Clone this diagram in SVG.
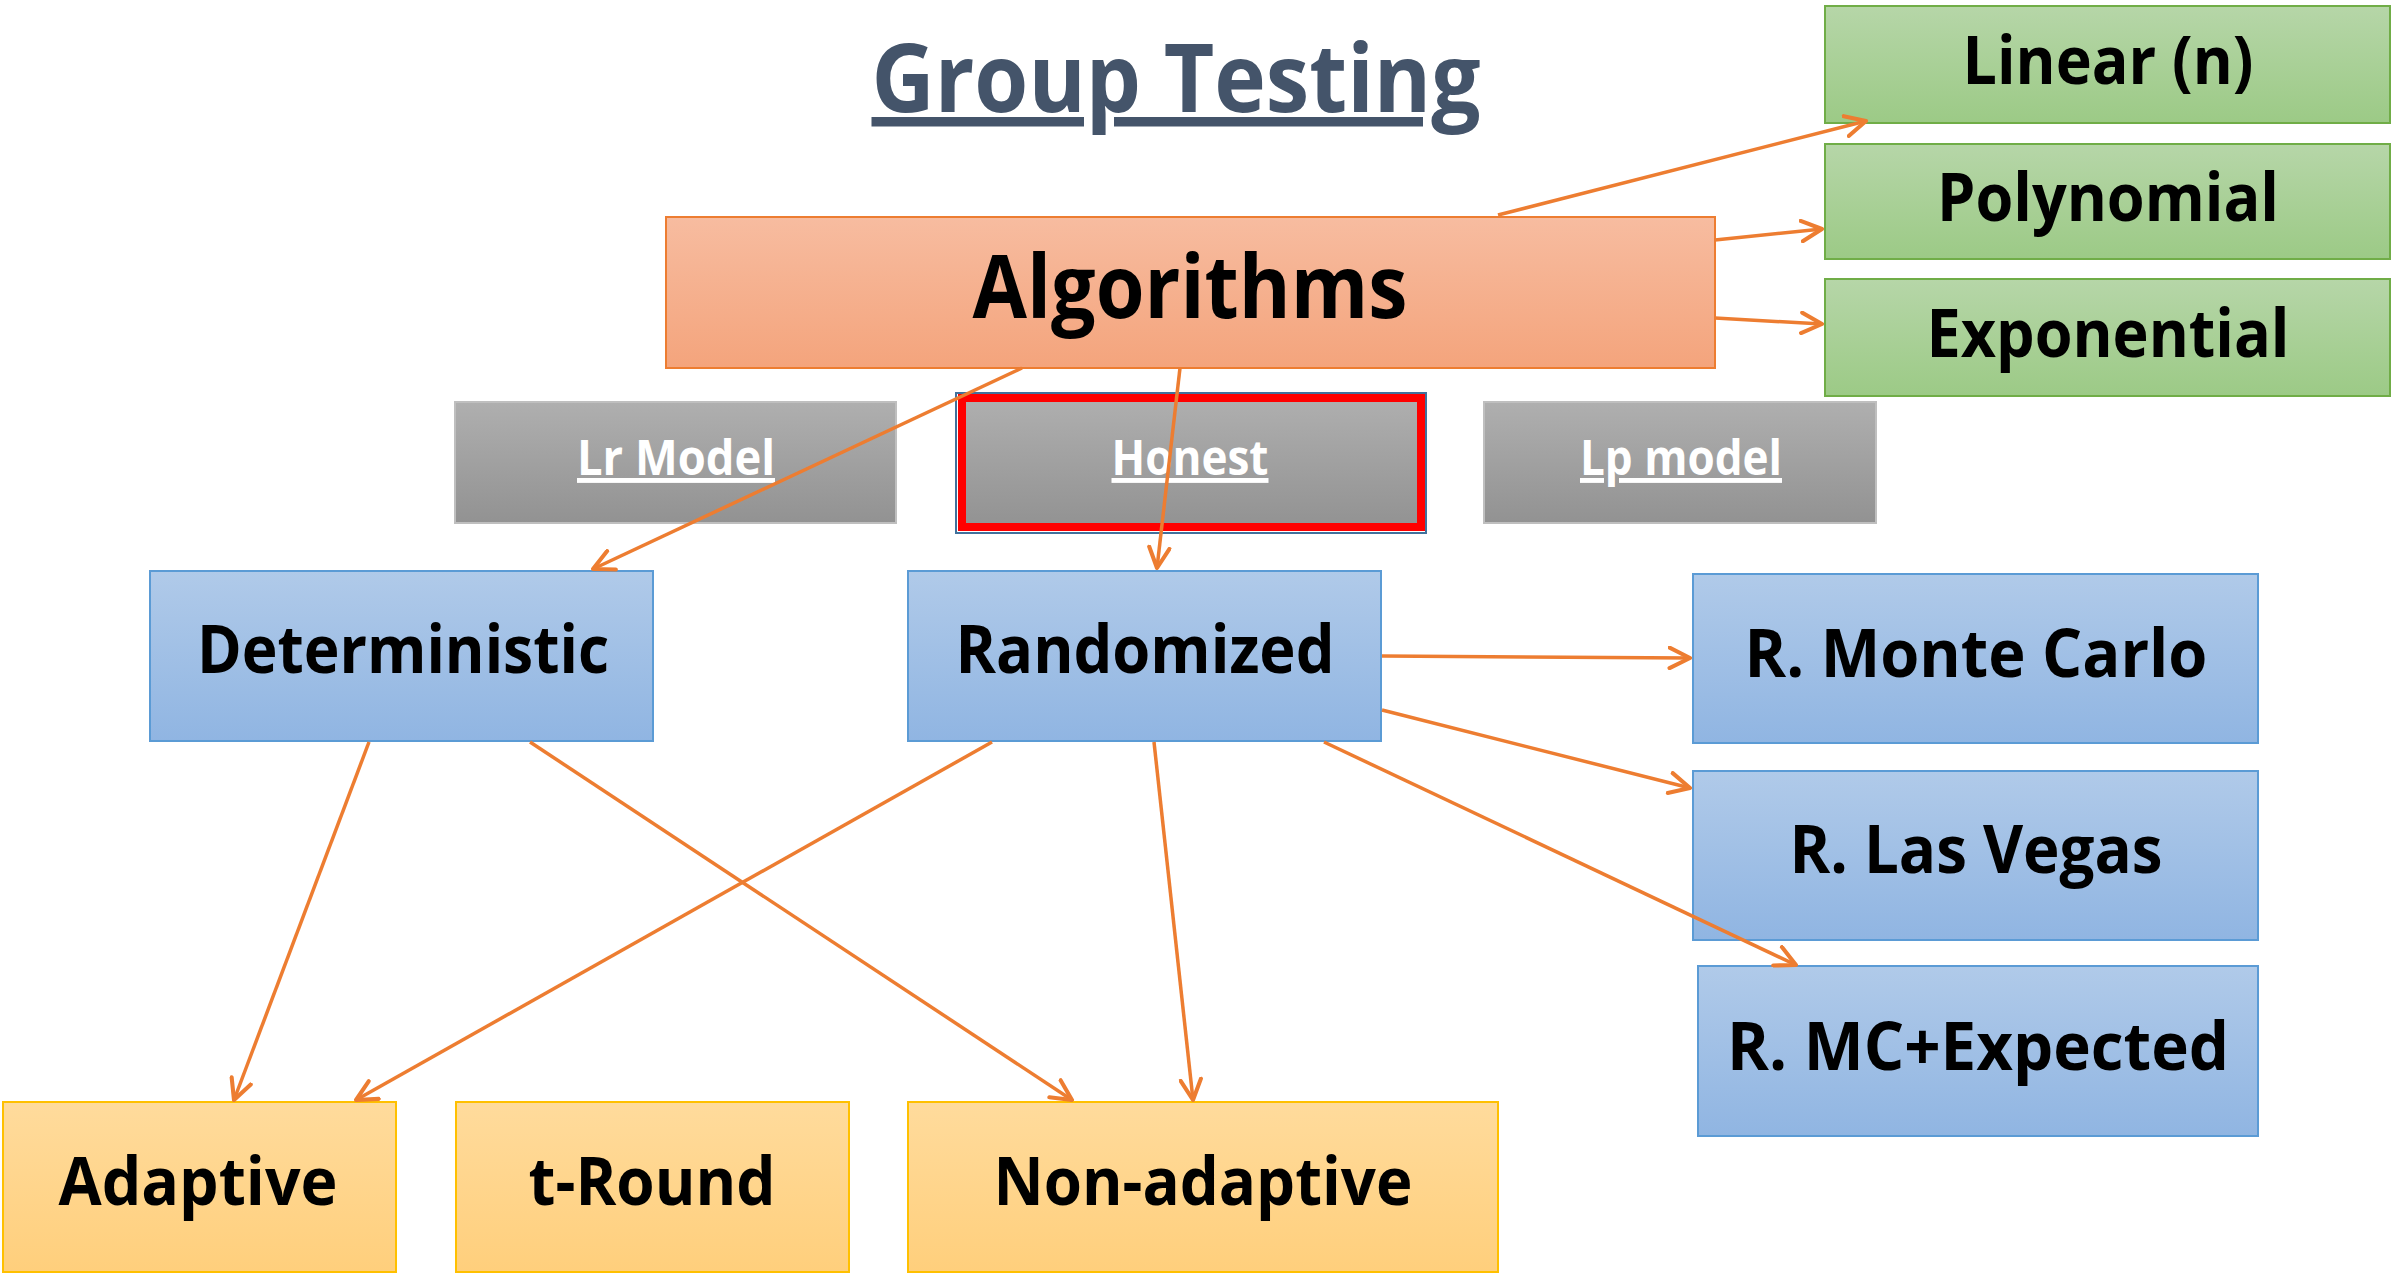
<svg xmlns="http://www.w3.org/2000/svg" width="2394" height="1275" viewBox="0 0 2394 1275">
<defs>
<linearGradient id="gOr" x1="0" y1="0" x2="0" y2="1"><stop offset="0" stop-color="#F7BCA0"/><stop offset="1" stop-color="#F4A47C"/></linearGradient>
<linearGradient id="gGr" x1="0" y1="0" x2="0" y2="1"><stop offset="0" stop-color="#B6D6A8"/><stop offset="1" stop-color="#9CCA86"/></linearGradient>
<linearGradient id="gGy" x1="0" y1="0" x2="0" y2="1"><stop offset="0" stop-color="#AFAFAF"/><stop offset="1" stop-color="#929292"/></linearGradient>
<linearGradient id="gBl" x1="0" y1="0" x2="0" y2="1"><stop offset="0" stop-color="#B0CAE9"/><stop offset="1" stop-color="#90B5E2"/></linearGradient>
<linearGradient id="gYe" x1="0" y1="0" x2="0" y2="1"><stop offset="0" stop-color="#FFDB9C"/><stop offset="1" stop-color="#FFCF7C"/></linearGradient>
<marker id="arr" viewBox="0 0 12 12" refX="11" refY="6" markerWidth="7" markerHeight="7" orient="auto" markerUnits="strokeWidth">
<path d="M1,1 L11,6 L1,11" fill="none" stroke="#ED7D31" stroke-width="2" stroke-linecap="round" stroke-linejoin="round"/>
</marker>
<style>
.t{font-family:"Open Sans","Noto Sans","DejaVu Sans",sans-serif;font-weight:700;text-anchor:middle;fill:#000}
.big{font-size:66px}
.gt{font-size:49px;fill:#FFFFFF;text-decoration:underline}
.or{fill:url(#gOr);stroke:#ED7D31;stroke-width:2}
.gr{fill:url(#gGr);stroke:#70AD47;stroke-width:2}
.gy{fill:url(#gGy);stroke:#BFBFBF;stroke-width:2}
.bl{fill:url(#gBl);stroke:#5B9BD5;stroke-width:2}
.ye{fill:url(#gYe);stroke:#FFC000;stroke-width:2}
.c{fill:none;stroke:#ED7D31;stroke-width:3.5;marker-end:url(#arr)}
</style>
</defs>
<rect width="2394" height="1275" fill="#FFFFFF"/>
<g id="title">
<text class="t" x="1176" y="112" style="font-size:95px;fill:#44546A;text-decoration:underline" textLength="609" lengthAdjust="spacingAndGlyphs">Group Testing</text>
</g>
<g id="algorithms">
<rect class="or" x="666" y="217" width="1049" height="151"/>
<text class="t" x="1190" y="318" style="font-size:87px" textLength="435" lengthAdjust="spacingAndGlyphs">Algorithms</text>
</g>
<g id="linear">
<rect class="gr" x="1825" y="6" width="565" height="117"/>
<text class="t big" x="2108" y="84" textLength="291" lengthAdjust="spacingAndGlyphs">Linear (n)</text>
</g>
<g id="polynomial">
<rect class="gr" x="1825" y="144" width="565" height="115"/>
<text class="t big" x="2108" y="221" textLength="342" lengthAdjust="spacingAndGlyphs">Polynomial</text>
</g>
<g id="exponential">
<rect class="gr" x="1825" y="279" width="565" height="117"/>
<text class="t big" x="2108" y="357" textLength="363" lengthAdjust="spacingAndGlyphs">Exponential</text>
</g>
<g id="lr-model">
<rect class="gy" x="455" y="402" width="441" height="121"/>
<text class="t gt" x="676" y="475" textLength="198" lengthAdjust="spacingAndGlyphs">Lr Model</text>
</g>
<g id="honest">
<rect x="962" y="398" width="459" height="129" fill="url(#gGy)" stroke="#FF0000" stroke-width="8"/>
<rect x="956" y="393" width="470" height="140" fill="none" stroke="#41719C" stroke-width="2"/>
<text class="t gt" x="1190" y="475" textLength="157" lengthAdjust="spacingAndGlyphs">Honest</text>
</g>
<g id="lp-model">
<rect class="gy" x="1484" y="402" width="392" height="121"/>
<text class="t gt" x="1681" y="475" textLength="202" lengthAdjust="spacingAndGlyphs">Lp model</text>
</g>
<g id="deterministic">
<rect class="bl" x="150" y="571" width="503" height="170"/>
<text class="t big" x="403" y="673" textLength="412" lengthAdjust="spacingAndGlyphs">Deterministic</text>
</g>
<g id="randomized">
<rect class="bl" x="908" y="571" width="473" height="170"/>
<text class="t big" x="1145" y="673" textLength="379" lengthAdjust="spacingAndGlyphs">Randomized</text>
</g>
<g id="monte-carlo">
<rect class="bl" x="1693" y="574" width="565" height="169"/>
<text class="t big" x="1976" y="677" textLength="463" lengthAdjust="spacingAndGlyphs">R. Monte Carlo</text>
</g>
<g id="las-vegas">
<rect class="bl" x="1693" y="771" width="565" height="169"/>
<text class="t big" x="1976" y="873" textLength="373" lengthAdjust="spacingAndGlyphs">R. Las Vegas</text>
</g>
<g id="mc-expected">
<rect class="bl" x="1698" y="966" width="560" height="170"/>
<text class="t big" x="1978" y="1070" textLength="502" lengthAdjust="spacingAndGlyphs">R. MC+Expected</text>
</g>
<g id="adaptive">
<rect class="ye" x="3" y="1102" width="393" height="170"/>
<text class="t big" x="198" y="1205" textLength="279" lengthAdjust="spacingAndGlyphs">Adaptive</text>
</g>
<g id="t-round">
<rect class="ye" x="456" y="1102" width="393" height="170"/>
<text class="t big" x="652" y="1205" textLength="247" lengthAdjust="spacingAndGlyphs">t-Round</text>
</g>
<g id="non-adaptive">
<rect class="ye" x="908" y="1102" width="590" height="170"/>
<text class="t big" x="1203" y="1205" textLength="419" lengthAdjust="spacingAndGlyphs">Non-adaptive</text>
</g>
<g id="connectors">
<line class="c" x1="1498" y1="215" x2="1866" y2="121"/>
<line class="c" x1="1715" y1="240" x2="1822" y2="229"/>
<line class="c" x1="1715" y1="318" x2="1822" y2="324"/>
<line class="c" x1="1022" y1="368" x2="593" y2="569"/>
<line class="c" x1="1180" y1="368" x2="1157" y2="568"/>
<line class="c" x1="1382" y1="656" x2="1690" y2="658"/>
<line class="c" x1="1382" y1="710" x2="1690" y2="788"/>
<line class="c" x1="1324" y1="742" x2="1796" y2="965"/>
<line class="c" x1="992" y1="742" x2="356" y2="1100"/>
<line class="c" x1="1154" y1="742" x2="1193" y2="1100"/>
<line class="c" x1="369" y1="742" x2="234" y2="1100"/>
<line class="c" x1="530" y1="742" x2="1072" y2="1100"/>
</g>
</svg>
